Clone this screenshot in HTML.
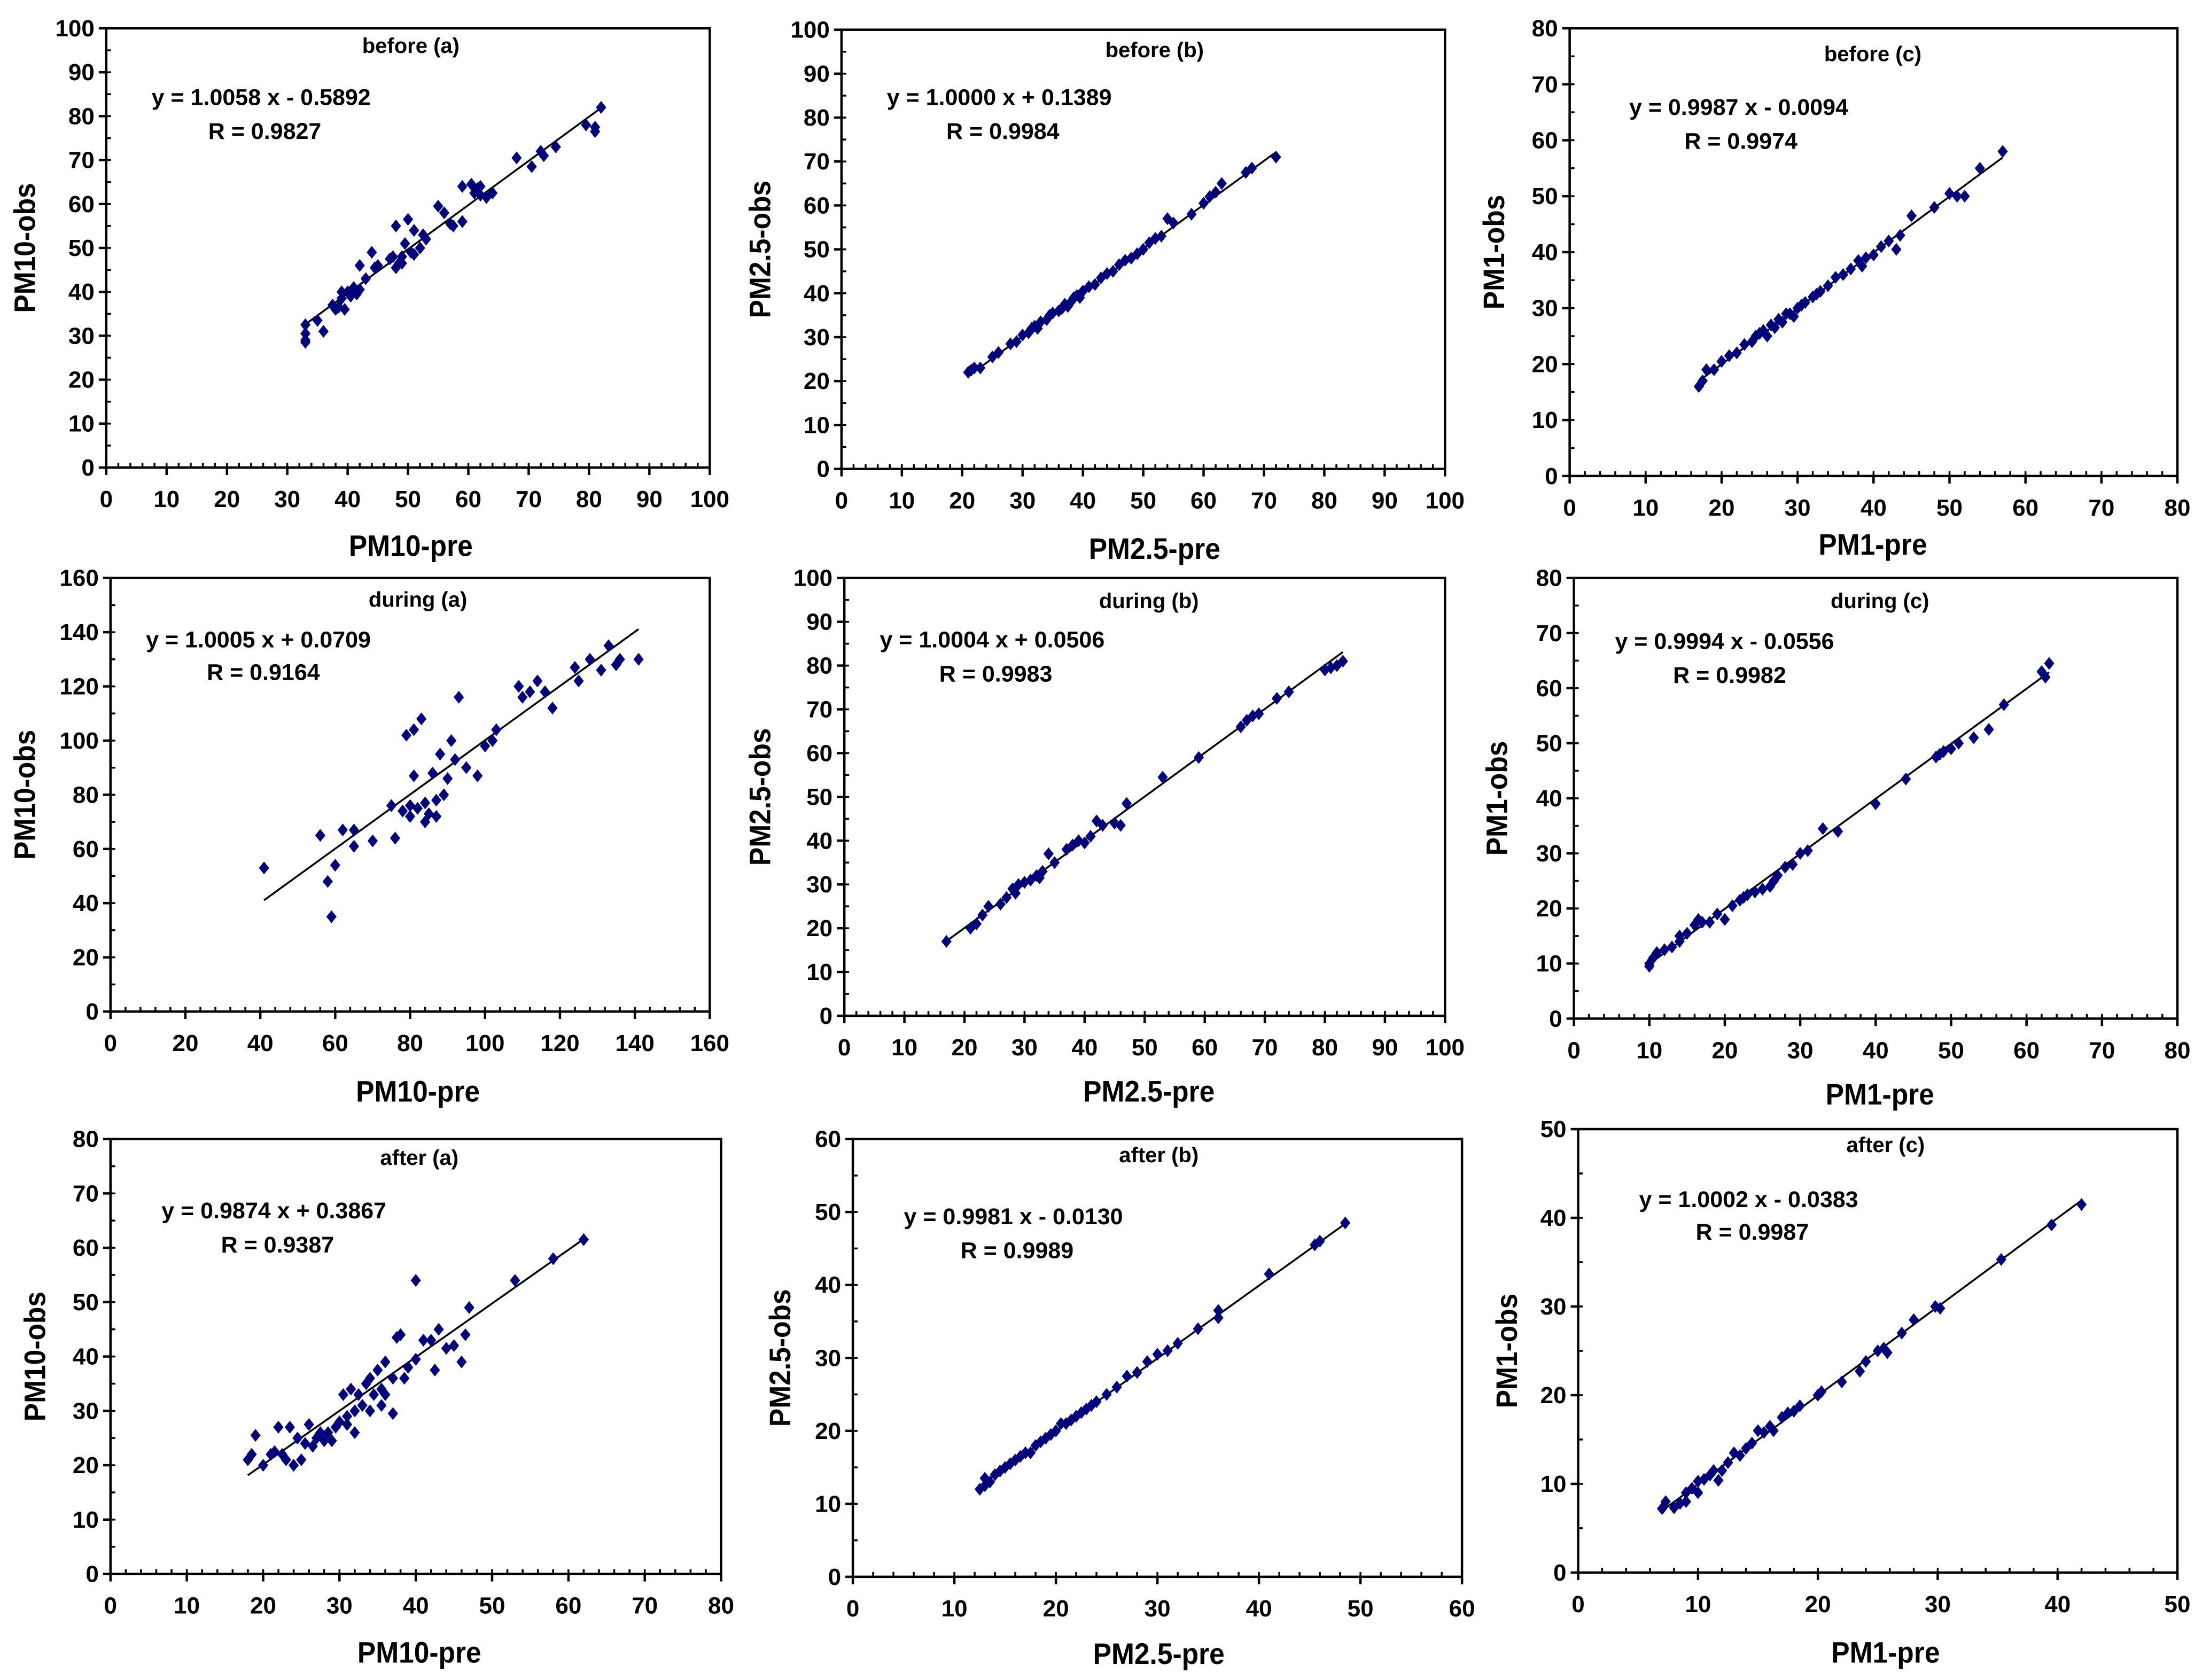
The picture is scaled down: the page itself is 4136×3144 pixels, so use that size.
<!DOCTYPE html>
<html><head><meta charset="utf-8"><style>
html,body{margin:0;padding:0;background:#fff;}
svg{display:block;}
text{font-family:"Liberation Sans",Arial,sans-serif;font-weight:bold;fill:#000;}
</style></head>
<body>
<svg id="fig" xmlns="http://www.w3.org/2000/svg" width="4136" height="3144" viewBox="0 0 4136 3144"></svg>
<script>
// ---- data ----
const titles = ["before (a)","before (b)","before (c)","during (a)","during (b)","during (c)","after (a)","after (b)","after (c)"];
const xLabels = ["PM10-pre","PM2.5-pre","PM1-pre","PM10-pre","PM2.5-pre","PM1-pre","PM10-pre","PM2.5-pre","PM1-pre"];
const yLabels = ["PM10-obs","PM2.5-obs","PM1-obs","PM10-obs","PM2.5-obs","PM1-obs","PM10-obs","PM2.5-obs","PM1-obs"];
const axisMax = [100,100,80,160,100,80,80,60,50];
const majorStep = [10,10,10,20,10,10,10,10,10];
const slopes = [1.0058,1.0000,0.9987,1.0005,1.0004,0.9994,0.9874,0.9981,1.0002];
const intercepts = [-0.5892,0.1389,-0.0094,0.0709,0.0506,-0.0556,0.3867,-0.0130,-0.0383];
const eqTexts = ["y = 1.0058 x - 0.5892","y = 1.0000 x + 0.1389","y = 0.9987 x - 0.0094","y = 1.0005 x + 0.0709","y = 1.0004 x + 0.0506","y = 0.9994 x - 0.0556","y = 0.9874 x + 0.3867","y = 0.9981 x - 0.0130","y = 1.0002 x - 0.0383"];
const rTexts = ["R = 0.9827","R = 0.9984","R = 0.9974","R = 0.9164","R = 0.9983","R = 0.9982","R = 0.9387","R = 0.9989","R = 0.9987"];
const pts0 = [[33,29],[33,28.5],[33,30.5],[33,32.5],[35,33.5],[36,31],[37.5,37],[38,36],[38.5,36.5],[39,38.5],[39,40],[39.5,36],[40,40],[40.5,39],[41,41],[41.5,39.5],[42,40.5],[42,46],[43,43],[44,49],[44.5,45.5],[45,46],[47,47.5],[47.5,48],[48,55],[48,45.5],[48.5,46.5],[49,48],[49,46.5],[49.5,51],[50,56.5],[50.5,49],[51,48.5],[51,54],[52,50],[52.5,53],[53,52],[55,59.5],[56,58],[57,55.5],[57.5,55],[59,56],[59,64],[60.5,64.5],[61,62.5],[61.5,63.5],[62,64],[62,62],[63,61.5],[64,62.5],[68,70.5],[70.5,68.5],[72,72],[72.5,71],[74.5,73],[79.5,78],[81,77.5],[81,76.5],[82,82]];
const pts1 = [[21,22],[21.5,22.5],[22,23],[23,23],[25,25.5],[26,26.5],[28,28.5],[29,29],[30,30.5],[31,31],[31.5,32],[32,32.5],[32.5,32],[33,33.5],[34,34],[34.5,35],[35,35.5],[36,36],[36.5,36.5],[37,37.5],[37.5,37],[38,38],[38.5,39],[39,39.5],[39.5,39],[40,40.5],[41,41.5],[42,42],[43,43.5],[44,44.5],[45,45],[46,46.5],[47,47.5],[48,48],[49,49],[50,50],[51,51.5],[52,52.5],[53,53],[54,57],[55,56],[58,58],[60,60.5],[61,62],[62,63],[63,65],[67,67.5],[68,68.5],[72,71]];
const pts2 = [[17,16],[17.5,17],[18,19],[19,19],[20,20.5],[21,21.5],[22,22],[23,23.5],[24,24],[24.5,25],[25,25.5],[25.5,26],[26,25],[26.5,27],[27,26.5],[27.5,28],[28,27.5],[28.5,29],[29,29],[29.5,28.5],[30,30],[30.5,30.5],[31,31],[32,32],[32.5,32.5],[33,33],[34,34],[35,35.5],[36,36],[37,37],[38,38.5],[38.5,37.5],[39,39],[40,39.5],[41,41],[42,42],[43,40.5],[43.5,43],[45,46.5],[48,48],[50,50.5],[51,50],[52,50],[54,55],[57,58]];
const pts3 = [[41,53],[56,65],[58,48],[59,35],[60,54],[62,67],[65,67],[65,61],[70,63],[75,76],[76,64],[78,74],[79,102],[80,72],[80,76],[81,104],[81,87],[82,75],[83,108],[84,70],[84,77],[85,73],[86,88],[87,78],[87,72],[88,95],[89,80],[90,86],[91,100],[92,93],[93,116],[95,90],[98,87],[100,98],[102,100],[103,104],[109,120],[110,116],[112,118],[114,122],[116,118],[118,112],[124,127],[125,122],[128,130],[131,126],[133,135],[135,128],[136,130],[141,130]];
const pts4 = [[17,17],[21,20],[22,21],[23,23],[24,25],[26,25.5],[27,27],[28,29],[28.5,28],[29,30],[30,30.5],[31,31],[32,32],[32.5,31.5],[33,33],[34,37],[35,35],[37,38],[38,39],[39,40],[40,39.5],[41,41],[42,44.5],[43,43.5],[45,44],[46,43.5],[47,48.5],[53,54.5],[59,59],[66,66],[67,67.5],[68,68.5],[69,69],[72,72.5],[74,74],[80,79],[81,79.5],[82,80],[83,81]];
const pts5 = [[10,10],[10,9.5],[10.5,11],[11,12],[12,12.5],[13,13],[14,14],[14,15],[15,15.5],[16,17],[16.5,18],[17,17.5],[18,17.5],[19,19],[20,18],[21,20.5],[22,21.5],[22.5,22],[23,22.5],[24,23],[25,23.5],[26,24],[26.5,25],[27,26],[28,27.5],[29,28],[30,30],[31,30.5],[33,34.5],[35,34],[40,39],[44,43.5],[48,47.5],[48.5,48],[49,48.5],[50,49],[51,50],[53,51],[55,52.5],[57,57],[62,63],[62.5,62],[63,64.5]];
const pts6 = [[18,21],[18.5,22],[19,25.5],[20,20],[21,22],[21.5,22.5],[22,27],[22.5,22],[23,21],[23.5,27],[24,20],[24.5,25],[25,21],[25.5,24],[26,27.5],[26.5,23.5],[27,25],[27.5,26],[28,24.5],[28.5,26],[29,24.5],[29.5,27],[30,28],[30.5,33],[31,27.5],[31,29],[31.5,34],[32,30],[32,26],[32.5,33],[33,31],[33.5,35],[34,30],[34,36],[34.5,33],[35,37.5],[35.5,34],[35.5,31],[36,33],[36,39],[37,29.5],[37,36],[37.5,43.5],[38,44],[38.5,36],[39,38],[40,39.5],[40,54],[41,43],[42,43],[42.5,37.5],[43,45],[44,41.5],[45,42],[46,39],[46.5,44],[47,49],[53,54],[58,58],[62,61.5]];
const pts7 = [[12.5,12],[13,12.5],[13,13.5],[13.5,13],[14,14],[14.5,14.5],[15,15],[15.5,15.5],[16,16],[16.5,16.5],[17,17],[17.5,17],[18,18],[18.5,18.5],[19,19],[19.5,19.5],[20,20],[20.5,21],[21,21],[21.5,21.5],[22,22],[22.5,22.5],[23,23],[23.5,23.5],[24,24],[25,25],[26,26],[27,27.5],[28,28],[29,29.5],[30,30.5],[31,31],[32,32],[34,34],[36,35.5],[36,36.5],[41,41.5],[45.5,45.5],[46,46],[48.5,48.5]];
const pts8 = [[7,7.2],[7.3,8],[8,7.3],[8.5,7.8],[9,9],[9,8],[9.5,9.5],[10,9],[10,10.3],[10.5,10.5],[11,11],[11.3,11.5],[11.7,10.4],[12,11.5],[12.5,12.4],[13,13.5],[13.5,13.2],[14,14],[14.5,14.6],[15,16],[15.5,15.8],[16,16.5],[16.3,16],[17,17.5],[17.5,18],[18,18.2],[18.5,18.8],[20,20],[20.3,20.4],[22,21.5],[23.5,22.7],[24,23.8],[25,25],[25.5,25.3],[25.8,24.8],[27,27],[28,28.5],[29.8,30],[30.2,29.8],[35.3,35.3],[39.5,39.2],[42,41.5]];
const allPts = [pts0,pts1,pts2,pts3,pts4,pts5,pts6,pts7,pts8];

// ---- layout (display coordinates, scaled) ----
const S = 4136/1560;
const boxes = [
 [75,501,20,330, 290,32, 107,68, 147,92, 18,385],
 [594,1020,21,331, 815,35, 626,68, 668,92, 537,387],
 [1108,1537,20,336, 1322,38, 1150,75, 1189,99, 1055,384],
 [78,501,408,714, 295,423, 103,451, 146,474, 18,770],
 [596,1020,408,717, 811,424, 621,451, 663,475, 537,770],
 [1111,1537,408,719, 1327,424, 1140,452, 1181,476, 1057,772],
 [78,509,804,1111, 296,817, 114,854, 156,878, 25,1166],
 [602,1032,804,1113, 818,815, 638,858, 678,882, 551,1167],
 [1114,1537,797,1110, 1331,808, 1157,846, 1197,869, 1064,1166]
];
const NS = "http://www.w3.org/2000/svg";
const svg = document.getElementById('fig');
function mk(tag, attrs, parent){const e=document.createElementNS(NS,tag);for(const k in attrs)e.setAttribute(k,attrs[k]);parent.appendChild(e);return e;}

for(let i=0;i<9;i++){
  const b = boxes[i].map(v=>v*S);
  const [X0,X1,YT,Y0] = b;
  const max = axisMax[i], step = majorStep[i];
  const sx = v => X0 + (v/max)*(X1-X0);
  const sy = v => Y0 - (v/max)*(Y0-YT);
  const g = mk('g',{},svg);
  
  
  const frame = mk('rect',{x:X0,y:YT,width:X1-X0,height:Y0-YT,fill:'none',stroke:'#000','stroke-width':4.5},g);
  
  
  const minorX = (max>=160)?4:2, minorY = (max>=160)?10:5;
  for(let v=0; v<=max+1e-9; v+=minorX){ const x=sx(v); mk('line',{x1:x,x2:x,y1:Y0,y2:Y0-9,stroke:'#000','stroke-width':3.5},g); }
  for(let v=0; v<=max+1e-9; v+=minorY){ const y=sy(v); mk('line',{x1:X0,x2:X0+9,y1:y,y2:y,stroke:'#000','stroke-width':3.5},g); }
  for(let v=0; v<=max+1e-9; v+=step){
    const x=sx(v), y=sy(v);
    mk('line',{x1:x,x2:x,y1:Y0,y2:Y0+14,stroke:'#000','stroke-width':4.5},g);
    mk('line',{x1:X0-14,x2:X0,y1:y,y2:y,stroke:'#000','stroke-width':4.5},g);
    const tx = mk('text',{x:x,y:Y0+74,'font-size':44,'text-anchor':'middle'},g); tx.textContent=v;
    
    
    const ty = mk('text',{x:X0-22,y:y+15,'font-size':44,'text-anchor':'end'},g); ty.textContent=v;
    
    
  }
  const xs = allPts[i].map(p=>p[0]);
  const xa = Math.min(...xs), xb = Math.max(...xs);
  const ln = mk('line',{x1:sx(xa),y1:sy(slopes[i]*xa+intercepts[i]),x2:sx(xb),y2:sy(slopes[i]*xb+intercepts[i]),stroke:'#000','stroke-width':3.5},g);
  
  
  allPts[i].forEach(p=>{
    const cx=sx(p[0]), cy=sy(p[1]), r=12;
    const d = mk('polygon',{points:`${cx},${cy-r} ${cx+r*0.8},${cy} ${cx},${cy+r} ${cx-r*0.8},${cy}`,fill:'#00007a'},g);
    
    
  });
  const t = mk('text',{x:b[4],y:b[5]+14,'font-size':40,'text-anchor':'middle'},g); t.textContent=titles[i];
  
  
  const e = mk('text',{x:b[6],y:b[7]+16,'font-size':43},g); e.textContent=eqTexts[i];
  
  
  const r = mk('text',{x:b[8],y:b[9]+16,'font-size':43},g); r.textContent=rTexts[i];
  
  
  const xl = mk('text',{x:b[4],y:b[11]+20,'font-size':56,'text-anchor':'middle',textLength:'',}, g); xl.textContent=xLabels[i];
  xl.removeAttribute('textLength');
  
  
  const yc=(YT+Y0)/2;
  const yl = mk('text',{x:b[10]+18,y:yc,'font-size':56,'text-anchor':'middle',transform:`rotate(-90 ${b[10]+18} ${yc}) translate(0 0)`},g); yl.textContent=yLabels[i];
  
  
  xl.setAttribute('transform',`translate(${b[4]} 0) scale(0.92 1) translate(${-b[4]} 0)`);
  yl.setAttribute('transform',`rotate(-90 ${b[10]+18} ${yc}) translate(${b[10]+18} ${yc}) scale(0.92 1) translate(${-(b[10]+18)} ${-yc})`);
}
</script>
</body></html>
